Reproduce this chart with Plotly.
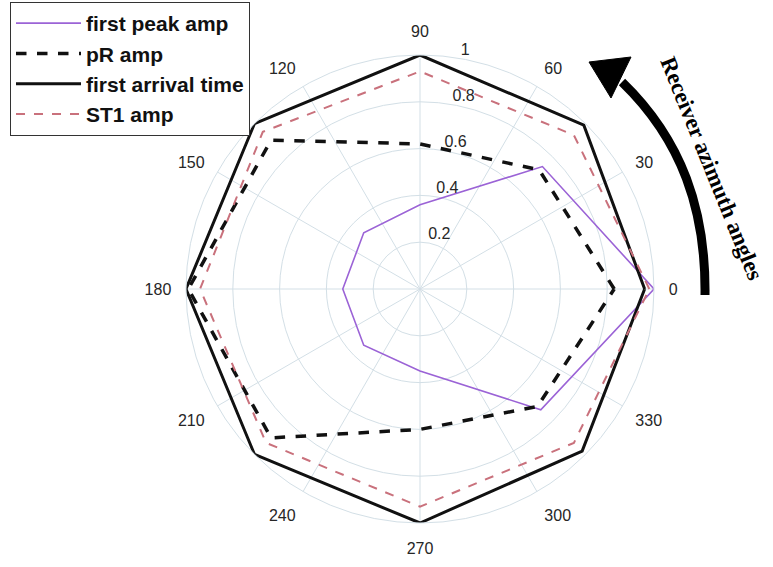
import plotly.graph_objects as go

theta = [0, 45, 90, 135, 180, 225, 270, 315]
first_peak_amp = [1.00, 0.74, 0.36, 0.34, 0.33, 0.34, 0.35, 0.73]
pR_amp = [0.83, 0.72, 0.62, 0.90, 0.99, 0.90, 0.60, 0.71]
first_arrival_time = [0.96, 0.99, 1.00, 1.00, 1.00, 1.00, 1.00, 0.98]
ST1_amp = [0.98, 0.93, 0.93, 0.95, 0.94, 0.93, 0.93, 0.93]

angle_ticks = [0, 30, 60, 90, 120, 150, 180, 210, 240, 270, 300, 330]
radial_ticks = [0.2, 0.4, 0.6, 0.8, 1.0]
radial_labels = ["0.2", "0.4", "0.6", "0.8", "1"]

W, H = 773, 567


def closed(v):
    return list(v) + [v[0]]


series = [
    ("first peak amp", first_peak_amp, dict(color="#9b63d6", width=1.6, dash="solid")),
    ("pR amp", pR_amp, dict(color="#111111", width=3.5, dash="dash")),
    ("first arrival time", first_arrival_time, dict(color="#111111", width=3, dash="solid")),
    ("ST1 amp", ST1_amp, dict(color="#c9717c", width=2, dash="dash")),
]

fig = go.Figure()
for i, (name, vals, line) in enumerate(series):
    fig.add_trace(go.Scatterpolar(
        r=closed(vals), theta=closed(theta), mode="lines", name=name,
        line=line, legendgroup=f"g{i}"))

# radial tick labels (horizontal, beside the 80-degree ray)
fig.add_trace(go.Scatterpolar(
    r=radial_ticks, theta=[80] * len(radial_ticks), mode="text",
    text=radial_labels, textposition="top right",
    textfont=dict(family="Liberation Sans, Arial", size=16, color="#262626"),
    showlegend=False, hoverinfo="skip"))

grid = "#d3dfe6"
cx, cy, R = 420, 289, 234

fig.update_layout(
    width=W, height=H,
    margin=dict(l=0, r=0, t=0, b=0),
    paper_bgcolor="white",
    font=dict(family="Liberation Sans, Arial", size=15, color="#262626"),
    polar=dict(
        domain=dict(x=[(cx - R) / W, (cx + R) / W], y=[1 - (cy + R) / H, 1 - (cy - R) / H]),
        bgcolor="white",
        angularaxis=dict(
            rotation=0, direction="counterclockwise",
            tickmode="array", tickvals=angle_ticks, ticktext=[str(a) for a in angle_ticks],
            showgrid=True, gridcolor=grid, gridwidth=1,
            showline=True, linecolor=grid, linewidth=1,
            ticks="outside", ticklen=11, tickcolor="rgba(0,0,0,0)",
            tickfont=dict(size=16, color="#262626"),
        ),
        radialaxis=dict(
            range=[0, 1], angle=80,
            tickmode="array", tickvals=radial_ticks,
            showticklabels=False,
            showgrid=True, gridcolor=grid, gridwidth=1,
            showline=False, ticks="",
        ),
    ),
    legend=dict(
        x=10 / W, y=1 - 2 / H, xanchor="left", yanchor="top",
        bgcolor="white", bordercolor="#333333", borderwidth=1,
        font=dict(family="Liberation Sans, Arial", size=21, color="#111111", weight="bold"),
        itemwidth=65, tracegroupgap=0,
    ),
    showlegend=True,
)


def px(x, y):
    return x / W, 1 - y / H


p0 = px(705, 295)
c1 = px(706, 210)
c2 = px(682, 140)
p1 = px(622, 82)
fig.add_shape(type="path", xref="paper", yref="paper",
              path=f"M {p0[0]},{p0[1]} C {c1[0]},{c1[1]} {c2[0]},{c2[1]} {p1[0]},{p1[1]}",
              line=dict(color="black", width=9))
t = px(589, 62)
b1 = px(631, 57)
b2 = px(611, 98)
fig.add_shape(type="path", xref="paper", yref="paper",
              path=f"M {t[0]},{t[1]} L {b1[0]},{b1[1]} L {b2[0]},{b2[1]} Z",
              fillcolor="black", line=dict(color="black", width=1))

fig.add_annotation(
    x=712 / W, y=1 - 168 / H, xref="paper", yref="paper",
    xanchor="center", yanchor="middle",
    text="<b>Receiver azimuth angles</b>", showarrow=False, textangle=68,
    font=dict(family="Liberation Serif, Times New Roman", size=23, color="black"),
)

fig.write_html("out.html")
